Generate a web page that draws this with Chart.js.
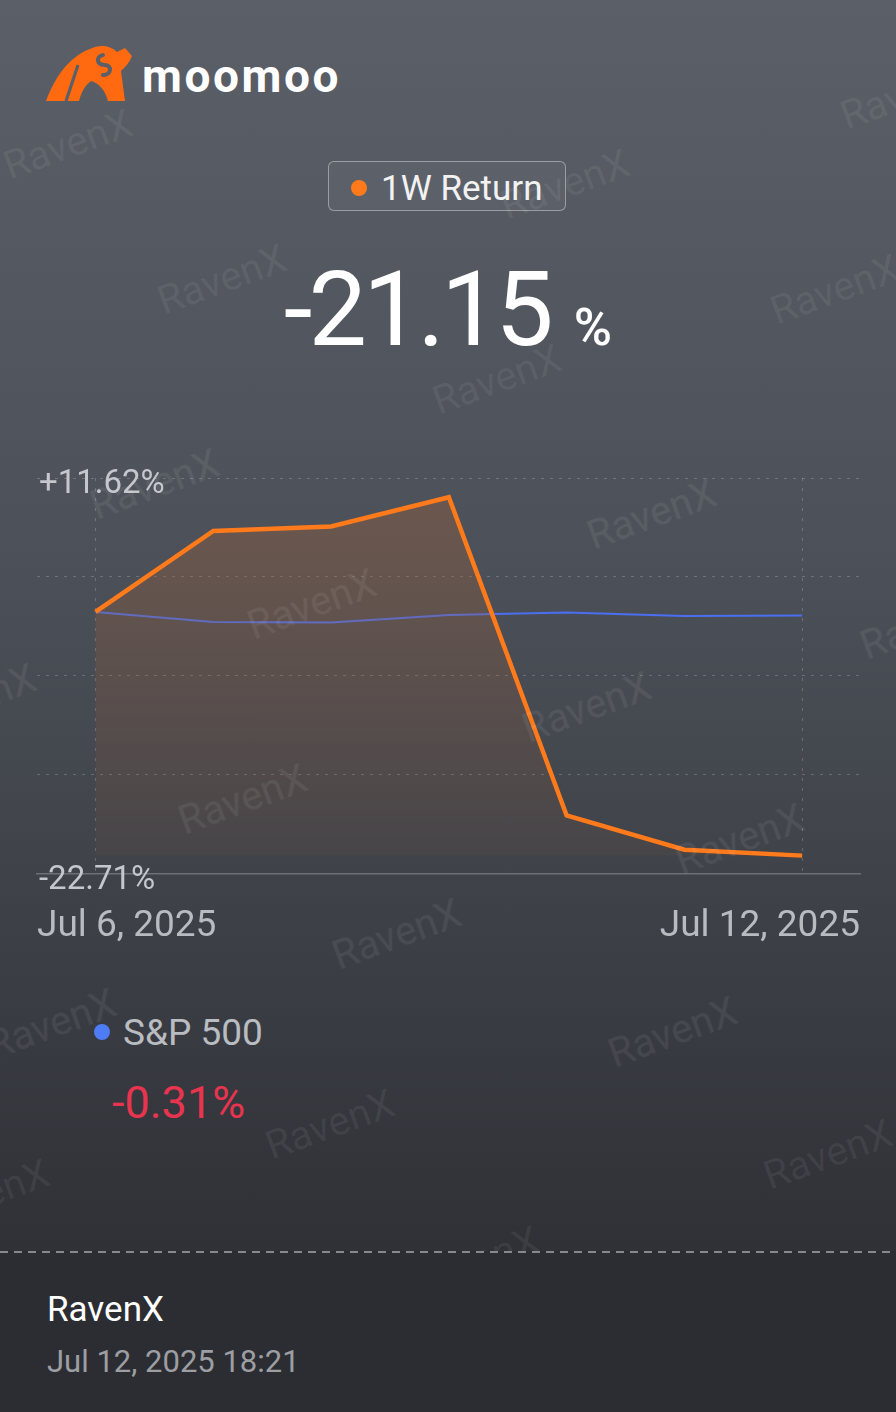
<!DOCTYPE html>
<html>
<head>
<meta charset="utf-8">
<script src="https://cdn.jsdelivr.net/npm/chart.js@4.4.1/dist/chart.umd.min.js"></script>
<style>
  html, body { margin: 0; padding: 0; }
  body {
    width: 896px; height: 1412px; position: relative; overflow: hidden;
    font-family: Roboto, "Noto Sans", sans-serif;
    background: linear-gradient(to bottom, #5b6068 0px, #4c5159 560px, #3d4047 920px, #303137 1250px, #2c2d32 1412px);
  }
  .abs { position: absolute; line-height: 1; white-space: nowrap; }
  #logo { left: 45px; top: 43px; width: 90px; height: 60px; }
  #brand { left: 142px; top: 53px; font-size: 46px; font-weight: 700; color: #fff; letter-spacing: 2.6px; }
  #badge {
    left: 328px; top: 161px; width: 236px; height: 48px;
    border: 1px solid rgba(255,255,255,0.38); border-radius: 6px;
    background: rgba(255,255,255,0.04);
  }
  #badge .dot { position: absolute; left: 22px; top: 18px; width: 16px; height: 16px; border-radius: 50%; background: #ff7a1a; }
  #badge .txt { position: absolute; left: 52px; top: 9px; font-size: 35px; color: #f2f2f2; line-height: 1; }
  #total { left: 0; width: 896px; top: 258px; text-align: center; color: #fff; }
  #total .num { font-size: 104px; font-weight: 400; letter-spacing: -4px; }
  #total .pct { font-size: 52px; font-weight: 500; margin-left: 24px; }
  #chartBox { position: absolute; left: 0; top: 440px; width: 896px; height: 552px; }
  #spDot { left: 94px; top: 1024px; width: 16px; height: 16px; border-radius: 50%; background: #4d7cf4; }
  #spName { left: 123px; top: 1014px; font-size: 37px; color: #b9bcc0; }
  #spRet { left: 112px; top: 1080px; font-size: 45px; color: #e8344e; }
  .wm {
    position: absolute; font-size: 40px; color: rgba(255,255,255,0.065); line-height: 1;
    transform: translate(-50%, -50%) rotate(-20deg); white-space: nowrap; z-index: 5; pointer-events: none;
  }
  #footer { position: absolute; left: 0; top: 1251px; width: 896px; height: 161px; background: #2c2d32; z-index: 8; }
  #footer .dash { position: absolute; left: 0; top: 0; width: 896px; height: 2px;
    background: repeating-linear-gradient(to right, #86888d 0 8px, transparent 8px 14px); }
  #footer .name { position: absolute; left: 47px; top: 41px; font-size: 35px; color: #fff; line-height: 1; }
  #footer .time { position: absolute; left: 47px; top: 95px; font-size: 31px; color: #9c9ea3; line-height: 1; }
</style>
</head>
<body>

<svg id="logo" class="abs" viewBox="0 0 90 60">
  <path fill="#ff6a10" d="M1,58 C8,40 18,20 40,8 L50,4 C58,2 66,3 72,9 L80,5 L87,13 C84,21 78,26 76,28 L80,58 L63,58 C60,47 54,40 46,38 C40,42 36,50 34,58 Z"/>
  <path fill="none" stroke="#5b6068" stroke-width="3.2" d="M33,22 L21,58"/>
  <path fill="none" stroke="#5b6068" stroke-width="4" stroke-linecap="round" d="M58,12 C50,14 52,22 60,22 C67,22 67,32 58,32"/>
</svg>
<div id="brand" class="abs">moomoo</div>

<div id="badge" class="abs"><span class="dot"></span><span class="txt">1W Return</span></div>

<div id="total" class="abs"><span class="num">-21.15</span><span class="pct">%</span></div>

<div id="chartBox"><canvas id="returnChart" width="896" height="552"></canvas></div>

<div id="spDot" class="abs"></div>
<div id="spName" class="abs">S&amp;P 500</div>
<div id="spRet" class="abs">-0.31%</div>

<div id="footer">
  <div class="dash"></div>
  <div class="name">RavenX</div>
  <div class="time">Jul 12, 2025 18:21</div>
</div>

<script>
// one point per day, Jul 6 .. Jul 12
const days = ['Jul 6', 'Jul 7', 'Jul 8', 'Jul 9', 'Jul 10', 'Jul 11', 'Jul 12'];
const portfolioReturns = [0, 7.02, 7.42, 9.95, -17.67, -20.64, -21.15];
const sp500Returns = [0, -0.87, -0.92, -0.27, -0.06, -0.35, -0.31];
const yBounds = [-22.71, 11.62];
const yTickLabels = ['-22.71%', '+11.62%'];
const xTickLabels = ['Jul 6, 2025', 'Jul 12, 2025'];

const watermarks = [
  [68, 145], [565, 185], [905, 95], [222, 280], [835, 290], [497, 380],
  [155, 485], [652, 515], [312, 605], [925, 625], [-28, 700], [587, 708],
  [243, 800], [740, 840], [397, 935], [52, 1025], [673, 1033], [330, 1125],
  [828, 1155], [-15, 1195], [475, 1262]
];
watermarks.forEach(([x, y]) => {
  const s = document.createElement('span');
  s.className = 'wm';
  s.textContent = 'RavenX';
  s.style.left = x + 'px';
  s.style.top = y + 'px';
  document.body.appendChild(s);
});

const toPoints = arr => arr.map((v, i) => ({ x: i, y: v }));
const gridColor = 'rgba(255,255,255,0.2)';

function fillGradient(context) {
  const { chart } = context;
  const area = chart.chartArea;
  if (!area) return 'rgba(140,90,60,0.25)';
  const g = chart.ctx.createLinearGradient(0, area.top, 0, area.bottom);
  g.addColorStop(0, 'rgba(160,95,55,0.38)');
  g.addColorStop(1, 'rgba(160,95,55,0.07)');
  return g;
}

function initReturnChart(ctx) {
  if (window.returnChart && typeof window.returnChart.destroy === 'function') {
    window.returnChart.destroy();
  }
  window.returnChart = new Chart(ctx, {
    type: 'line',
    data: {
      labels: days,
      datasets: [
        {
          label: '1W Return',
          data: toPoints(portfolioReturns),
          borderColor: '#ff7a1a',
          borderWidth: 4.5,
          borderJoinStyle: 'miter',
          pointRadius: 0,
          tension: 0,
          fill: { value: Math.min(...portfolioReturns) },
          backgroundColor: fillGradient
        },
        {
          label: 'S&P 500',
          data: toPoints(sp500Returns),
          borderColor: '#4a6ff0',
          borderWidth: 2,
          pointRadius: 0,
          tension: 0,
          fill: false
        }
      ]
    },
    options: {
      responsive: false,
      animation: false,
      layout: { padding: { left: 33, right: 36, top: 38, bottom: 12 } },
      plugins: { legend: { display: false }, tooltip: { enabled: false } },
      scales: {
        x: {
          type: 'linear',
          min: -0.497,
          max: 6.491,
          weight: 0,
          afterBuildTicks: s => { s.ticks = [{ value: 0 }, { value: days.length - 1 }]; },
          ticks: { display: false },
          grid: { color: gridColor, lineWidth: 1, drawTicks: false },
          border: { display: true, color: 'rgba(255,255,255,0.24)', width: 1.5, dash: [3, 7] }
        },
        xLabels: {
          type: 'linear',
          position: 'bottom',
          min: -0.497,
          max: 6.491,
          weight: 1,
          afterBuildTicks: s => { s.ticks = [{ value: s.min }, { value: s.max }]; },
          grid: { display: false, drawTicks: false },
          border: { display: false },
          ticks: {
            align: 'inner',
            padding: 31,
            maxRotation: 0,
            autoSkip: false,
            color: '#b8bbbf',
            font: { family: 'Roboto', size: 37 },
            callback: (v, i) => xTickLabels[i]
          }
        },
        y: {
          min: yBounds[0],
          max: yBounds[1],
          afterBuildTicks: s => {
            const step = (yBounds[1] - yBounds[0]) / 4;
            s.ticks = [0, 1, 2, 3, 4].map(i => ({ value: yBounds[0] + i * step }));
          },
          grid: {
            drawTicks: false,
            lineWidth: 1,
            color: c => (c.index === 0 ? 'rgba(0,0,0,0)' : gridColor)
          },
          border: { display: false, dash: [3, 6] },
          ticks: {
            mirror: true,
            padding: 2,
            labelOffset: 7,
            autoSkip: false,
            color: '#c4c7cb',
            font: { family: 'Roboto', size: 33 },
            callback: (v, i) => (i === 0 ? yTickLabels[0] : i === 4 ? yTickLabels[1] : '')
          }
        }
      }
    }
  });
}

initReturnChart(document.getElementById('returnChart'));
</script>
</body>
</html>
